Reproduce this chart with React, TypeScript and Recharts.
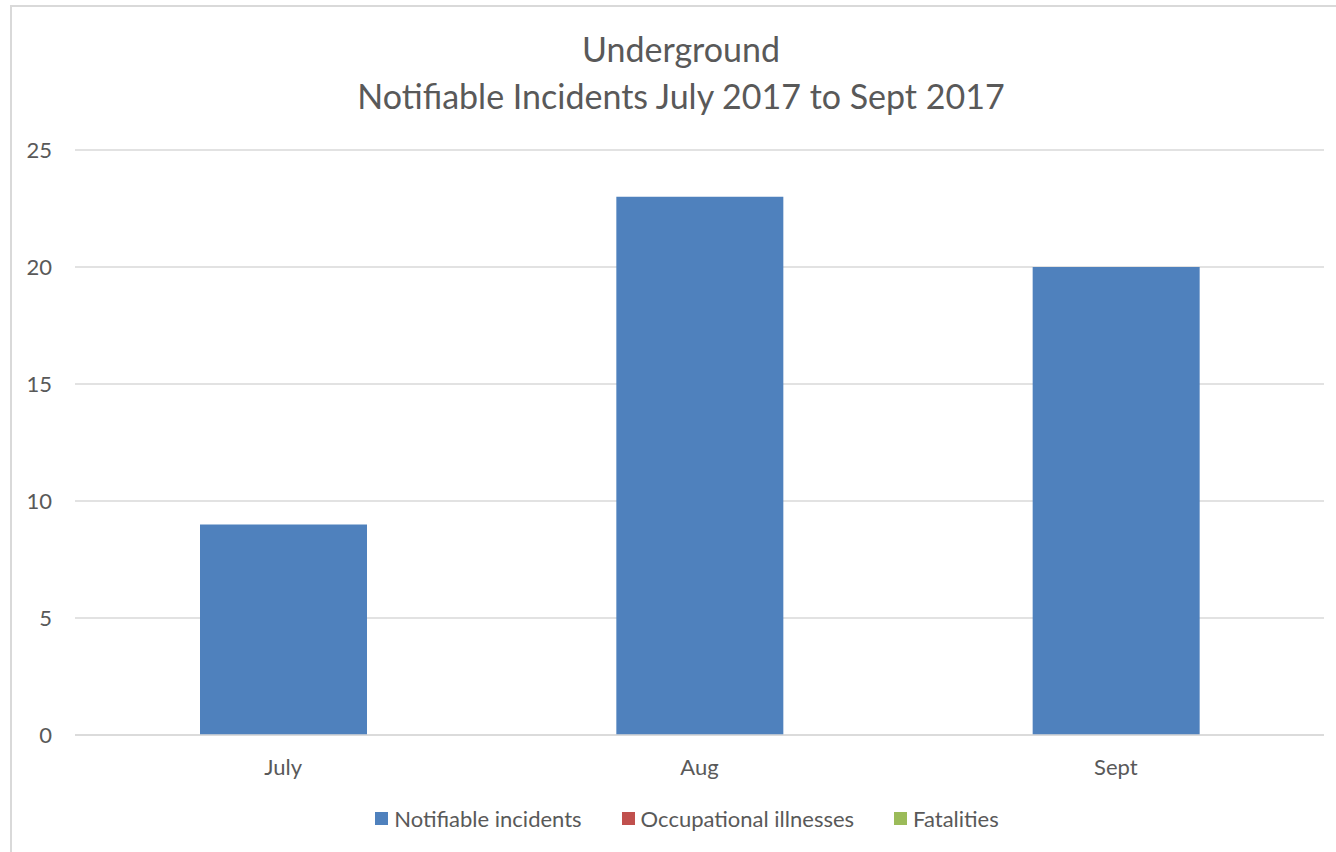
import { Bar, BarChart, CartesianGrid, Legend, XAxis, YAxis } from "recharts"

// values
const months = ["July", "Aug", "Sept"]
const notifiableIncidents = [9, 23, 20]
const occupationalIllnesses = [0, 0, 0]
const fatalities = [0, 0, 0]
const yTicks = [0, 5, 10, 15, 20, 25]
const seriesNames = ["Notifiable incidents", "Occupational illnesses", "Fatalities"]

const data = months.map((name, i) => ({
  name,
  notifiable: notifiableIncidents[i],
  occupational: occupationalIllnesses[i],
  fatalities: fatalities[i],
}))

const FONT = "Lato, 'Open Sans', sans-serif"
const TEXT = "#595959"

function LegendContent(props: any) {
  // keep series order (recharts sorts by name otherwise)
  const items = [...(props.payload || [])].sort(
    (a: any, b: any) => seriesNames.indexOf(a.value) - seriesNames.indexOf(b.value)
  )
  return (
    <div style={{ display: "flex", justifyContent: "center", alignItems: "center", gap: 40 }}>
      {items.map((item: any) => (
        <div key={item.value} style={{ display: "flex", alignItems: "center" }}>
          <span style={{ width: 13, height: 13, background: item.color, marginRight: 6, display: "inline-block" }} />
          <span style={{ fontFamily: FONT, fontSize: 22, color: TEXT }}>{item.value}</span>
        </div>
      ))}
    </div>
  )
}

export default function App() {
  return (
    <div style={{ position: "fixed", left: 0, top: 0, width: 1336, height: 852, overflow: "hidden", background: "#fff" }}>
      {/* chart frame, cut off at the right and bottom like the screenshot */}
      <div
        style={{
          position: "absolute",
          left: 10,
          top: 5,
          width: 1340,
          height: 900,
          border: "2px solid #d9d9d9",
        }}
      />
      <div
        style={{
          position: "absolute",
          left: 0,
          width: 1362,
          top: 25,
          textAlign: "center",
          fontFamily: FONT,
          fontSize: 34,
          color: TEXT,
          lineHeight: "47px",
        }}
      >
        <div>Underground</div>
        <div>Notifiable Incidents July 2017 to Sept 2017</div>
      </div>
      <div style={{ position: "absolute", left: 0, top: 0 }}>
        <BarChart width={1336} height={852} data={data} margin={{ top: 150, right: 12, bottom: 87, left: 0 }}>
          <CartesianGrid vertical={false} stroke="#d9d9d9" strokeWidth={1.5} />
          <XAxis
            dataKey="name"
            height={30}
            axisLine={{ stroke: "#d9d9d9", strokeWidth: 1.5 }}
            tickLine={false}
            tickMargin={18}
            tick={{ fill: TEXT, fontFamily: FONT, fontSize: 22 }}
          />
          <YAxis
            domain={[0, 25]}
            ticks={yTicks}
            width={75}
            axisLine={false}
            tickLine={false}
            tickMargin={17}
            tick={{ fill: TEXT, fontFamily: FONT, fontSize: 22 }}
          />
          <Legend
            layout="horizontal"
            verticalAlign="middle"
            align="center"
            content={LegendContent}
            wrapperStyle={{ left: 0, top: 805, width: 1374 }}
          />
          <Bar dataKey="notifiable" name={seriesNames[0]} stackId="a" fill="#4f81bd" barSize={167} isAnimationActive={false} />
          <Bar dataKey="occupational" name={seriesNames[1]} stackId="a" fill="#c0504d" barSize={167} isAnimationActive={false} />
          <Bar dataKey="fatalities" name={seriesNames[2]} stackId="a" fill="#9bbb59" barSize={167} isAnimationActive={false} />
        </BarChart>
      </div>
    </div>
  )
}
